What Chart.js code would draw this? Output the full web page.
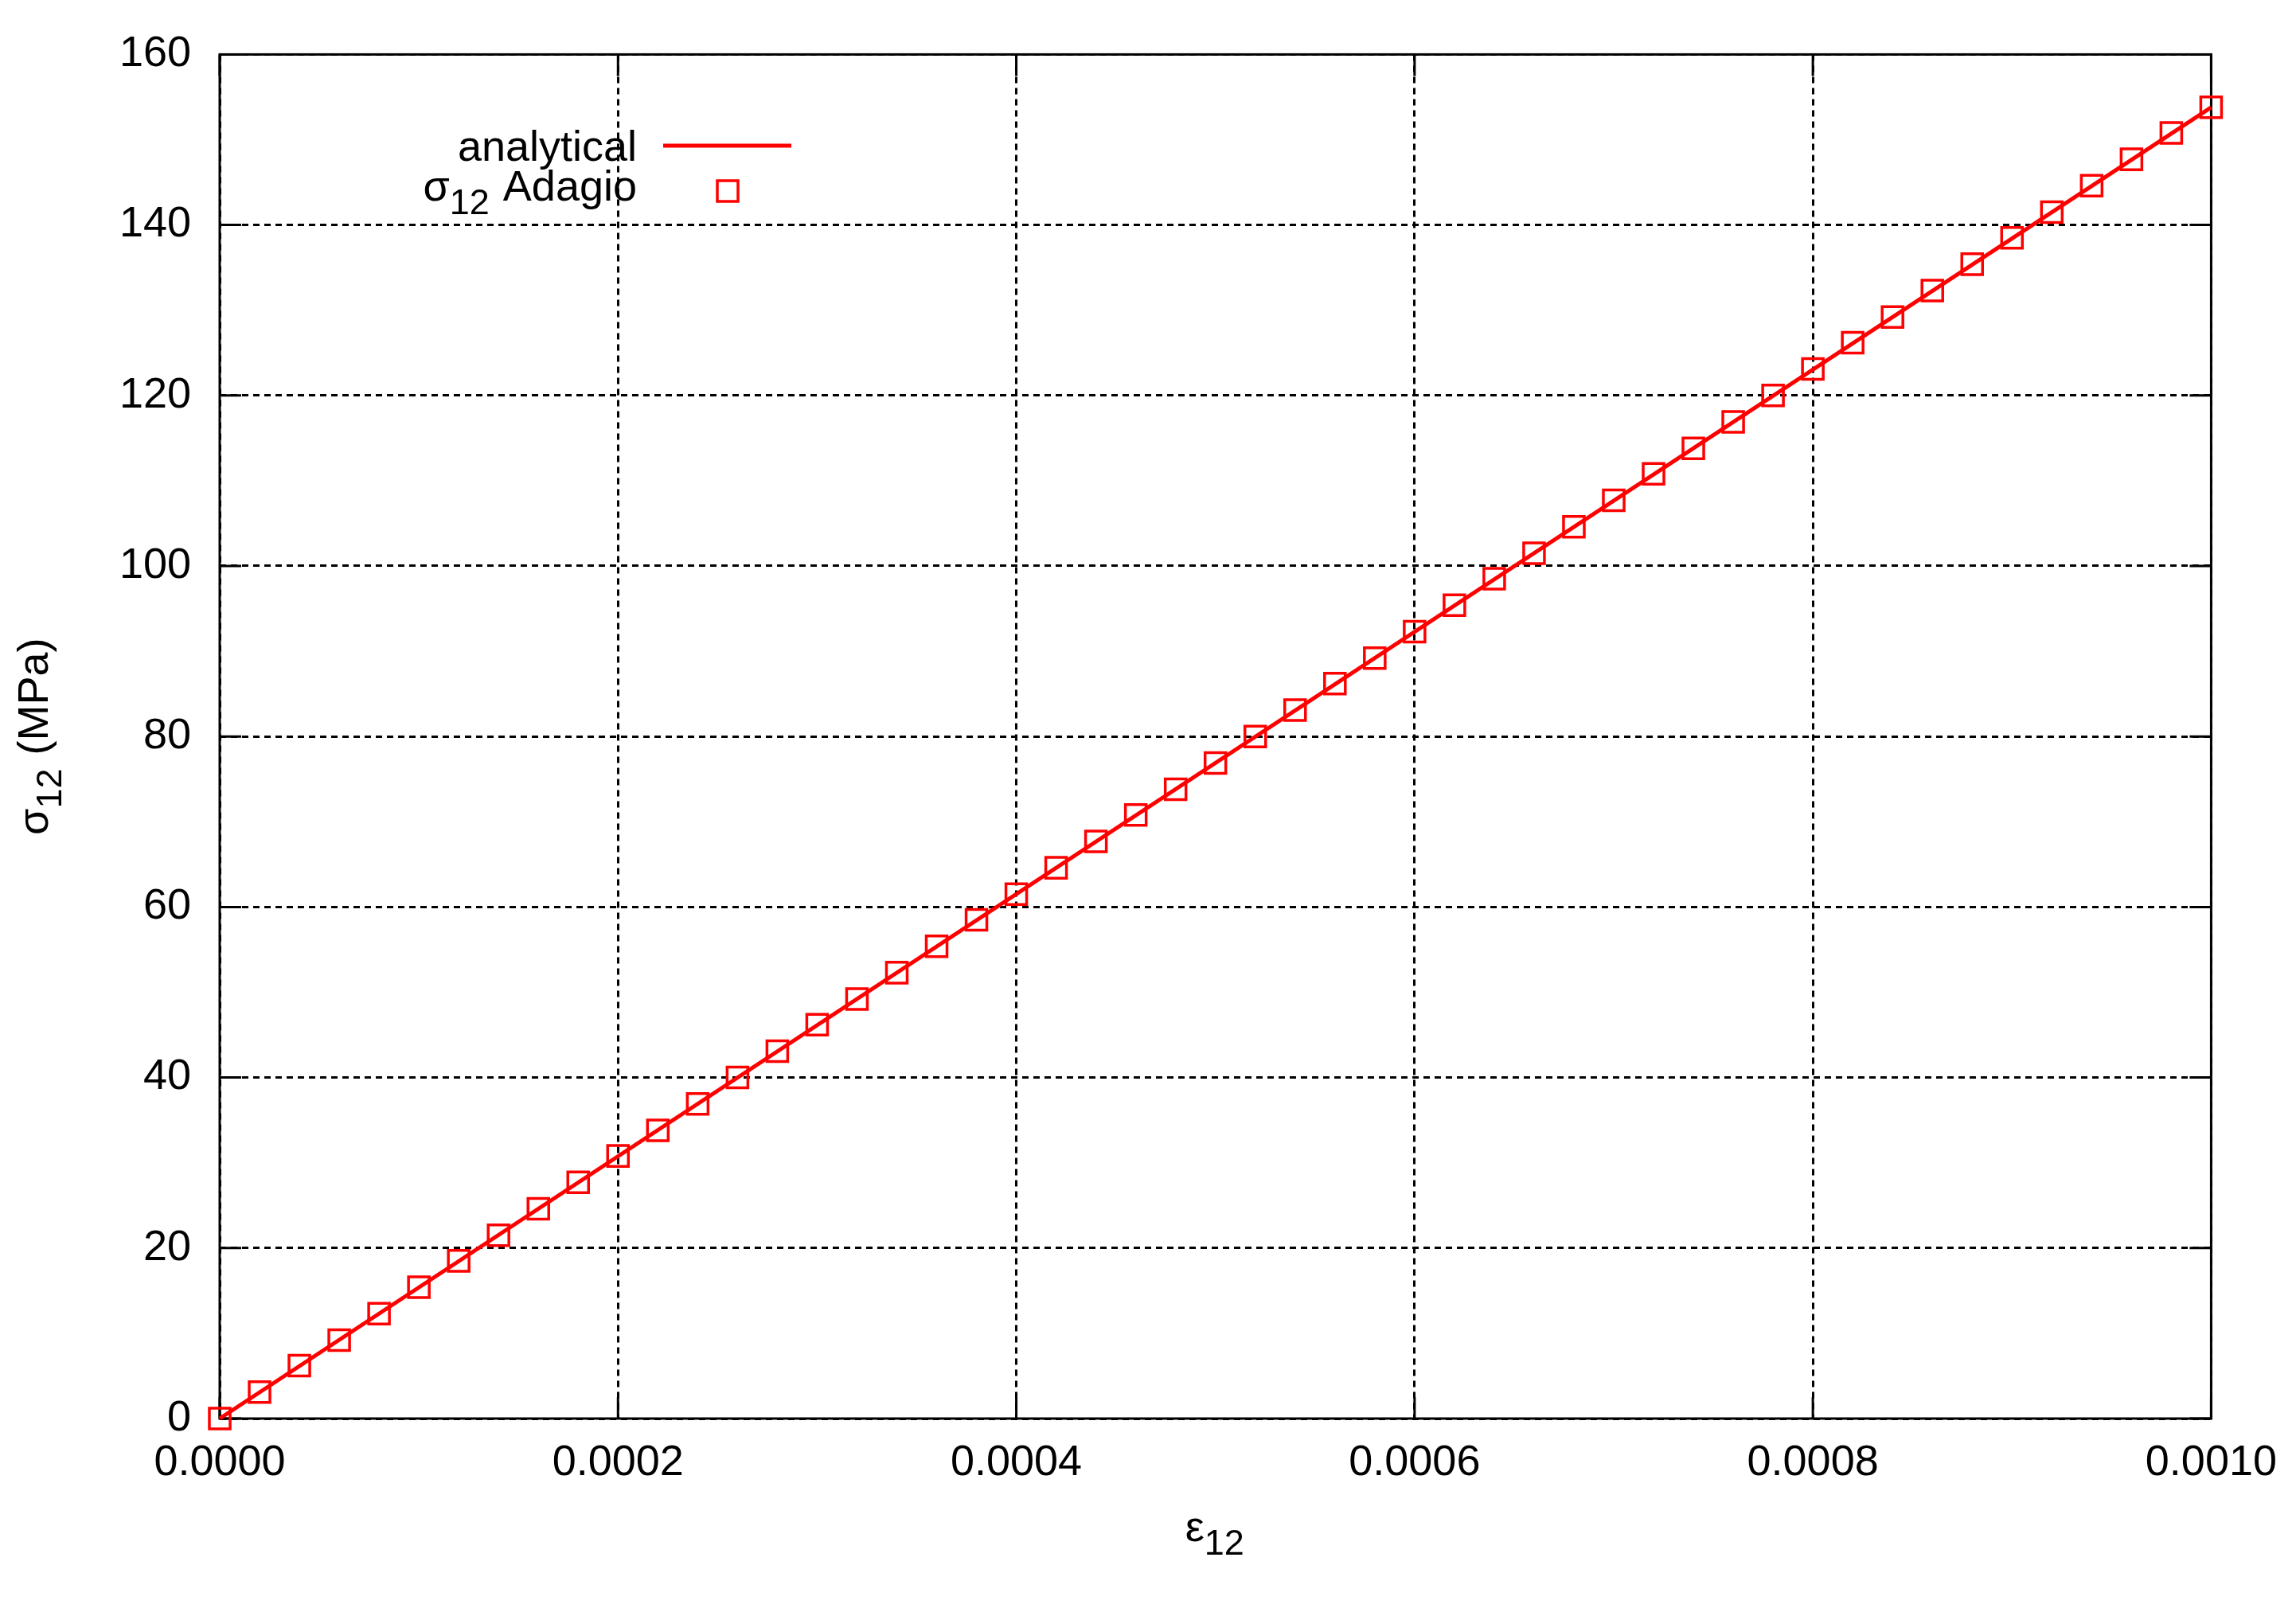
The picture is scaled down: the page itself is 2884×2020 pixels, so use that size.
<!DOCTYPE html>
<html>
<head>
<meta charset="utf-8">
<script src="https://cdn.jsdelivr.net/npm/chart.js@4.4.1/dist/chart.umd.min.js"></script>
<style>
    body { margin: 0; background: #fff; }
    canvas { display: block; }
</style>
</head>
<body>
<canvas id="stressChart" width="2884" height="2020"></canvas>
<script>
const strainPoints = [
    0, 0.00002, 0.00004, 0.00006, 0.00008, 0.0001, 0.00012, 0.00014, 0.00016, 0.00018,
    0.0002, 0.00022, 0.00024, 0.00026, 0.00028, 0.0003, 0.00032, 0.00034, 0.00036, 0.00038,
    0.0004, 0.00042, 0.00044, 0.00046, 0.00048, 0.0005, 0.00052, 0.00054, 0.00056, 0.00058,
    0.0006, 0.00062, 0.00064, 0.00066, 0.00068, 0.0007, 0.00072, 0.00074, 0.00076, 0.00078,
    0.0008, 0.00082, 0.00084, 0.00086, 0.00088, 0.0009, 0.00092, 0.00094, 0.00096, 0.00098,
    0.001
];
const stressPoints = [
    0, 3.1, 6.2, 9.2, 12.3, 15.4, 18.5, 21.5, 24.6, 27.7,
    30.8, 33.8, 36.9, 40.0, 43.1, 46.2, 49.2, 52.3, 55.4, 58.5,
    61.5, 64.6, 67.7, 70.8, 73.8, 76.9, 80.0, 83.1, 86.2, 89.2,
    92.3, 95.4, 98.5, 101.5, 104.6, 107.7, 110.8, 113.8, 116.9, 120.0,
    123.1, 126.2, 129.2, 132.3, 135.4, 138.5, 141.5, 144.6, 147.7, 150.8,
    153.8
];
const analyticStrain = [0, 0.001];
const analyticStress = [0, 153.8];

// text pieces, subscripts marked with sub: true
const legendAnalytical = [{t: 'analytical'}];
const legendAdagio = [{t: 'σ'}, {t: '12', sub: true}, {t: ' Adagio'}];
const xTitle = [{t: 'ε'}, {t: '12', sub: true}];
const yTitle = [{t: 'σ'}, {t: '12', sub: true}, {t: ' (MPa)'}];

const FONT = '"Liberation Sans", Arial, sans-serif';
const SIZE = 54;
const SUB_SIZE = 45;
const RED = '#ff0000';


function pieceFont(p) {
    return (p.sub ? SUB_SIZE : SIZE) + 'px ' + FONT;
}

function textWidth(ctx, pieces) {
    let w = 0;
    pieces.forEach(p => {
        ctx.font = pieceFont(p);
        w += ctx.measureText(p.t).width + (p.sub ? 2 : 0);
    });
    return w;
}

// draws pieces starting at x on baseline y, subscripts lowered
function drawPieces(ctx, pieces, x, y) {
    ctx.textAlign = 'left';
    ctx.textBaseline = 'alphabetic';
    pieces.forEach(p => {
        ctx.font = pieceFont(p);
        ctx.fillText(p.t, x, p.sub ? y + 17 : y);
        x += ctx.measureText(p.t).width + (p.sub ? 2 : 0);
    });
}


// gnuplot style box with inward ticks on all four sides
const framePlugin = {
    id: 'frame',
    beforeDatasetsDraw(chart) {
        const {ctx, chartArea: a, scales} = chart;
        const len = 27;
        ctx.save();
        ctx.strokeStyle = 'black';
        ctx.lineWidth = 3;
        ctx.setLineDash([]);
        ctx.beginPath();
        scales.x.ticks.forEach(t => {
            const px = scales.x.getPixelForValue(t.value);
            ctx.moveTo(px, a.bottom); ctx.lineTo(px, a.bottom - len);
            ctx.moveTo(px, a.top); ctx.lineTo(px, a.top + len);
        });
        scales.y.ticks.forEach(t => {
            const py = scales.y.getPixelForValue(t.value);
            ctx.moveTo(a.left, py); ctx.lineTo(a.left + len, py);
            ctx.moveTo(a.right, py); ctx.lineTo(a.right - len, py);
        });
        ctx.stroke();
        ctx.strokeRect(a.left, a.top, a.right - a.left, a.bottom - a.top);
        ctx.restore();
    }
};

// axis titles and key, drawn by hand for the subscripts
const textPlugin = {
    id: 'texts',
    afterDraw(chart) {
        const {ctx, chartArea: a} = chart;
        ctx.save();
        ctx.fillStyle = 'black';

        const midX = (a.left + a.right) / 2;
        drawPieces(ctx, xTitle, midX - textWidth(ctx, xTitle) / 2, 1936);

        const midY = (a.top + a.bottom) / 2;
        ctx.save();
        ctx.translate(60, midY);
        ctx.rotate(-Math.PI / 2);
        drawPieces(ctx, yTitle, -textWidth(ctx, yTitle) / 2, 0);
        ctx.restore();

        // key: text right aligned at 800, sample to the right
        drawPieces(ctx, legendAnalytical, 800 - textWidth(ctx, legendAnalytical), 202);
        drawPieces(ctx, legendAdagio, 800 - textWidth(ctx, legendAdagio), 252);

        ctx.strokeStyle = RED;
        ctx.lineWidth = 5;
        ctx.beginPath();
        ctx.moveTo(833, 183);
        ctx.lineTo(994, 183);
        ctx.stroke();
        ctx.lineWidth = 3.5;
        ctx.strokeRect(901, 227, 26, 26);
        ctx.restore();
    }
};


new Chart(document.getElementById('stressChart'), {
    type: 'scatter',
    data: {
        datasets: [
            {
                label: 'σ12 Adagio',
                data: strainPoints.map((x, i) => ({x: x, y: stressPoints[i]})),
                pointStyle: 'rect',
                pointRadius: 18.4,
                pointBorderWidth: 3.5,
                borderColor: RED,
                backgroundColor: 'rgba(0,0,0,0)',
                showLine: false,
                clip: false
            },
            {
                label: 'analytical',
                data: analyticStrain.map((x, i) => ({x: x, y: analyticStress[i]})),
                showLine: true,
                borderColor: RED,
                borderWidth: 5,
                pointRadius: 0,
                clip: false
            }
        ]
    },
    options: {
        responsive: false,
        animation: false,
        devicePixelRatio: 1,
        layout: {
            padding: {top: 68, right: 103, bottom: 0, left: 0}
        },
        plugins: {
            legend: {display: false},
            tooltip: {enabled: false}
        },
        scales: {
            x: {
                type: 'linear',
                min: 0,
                max: 0.001,
                afterFit: scale => { scale.height = 238; },
                ticks: {
                    stepSize: 0.0002,
                    autoSkip: false,
                    maxRotation: 0,
                    padding: 24,
                    color: 'black',
                    font: {family: FONT, size: SIZE},
                    callback: v => Number(v).toFixed(4)
                },
                grid: {
                    color: 'black',
                    lineWidth: 3,
                    drawTicks: false
                },
                border: {display: false, dash: [8, 6]}
            },
            y: {
                type: 'linear',
                min: 0,
                max: 160,
                afterFit: scale => { scale.width = 276; },
                ticks: {
                    stepSize: 20,
                    padding: 36,
                    color: 'black',
                    font: {family: FONT, size: SIZE}
                },
                grid: {
                    color: 'black',
                    lineWidth: 3,
                    drawTicks: false
                },
                border: {display: false, dash: [8, 6]}
            }
        }
    },
    plugins: [framePlugin, textPlugin]
});
</script>
</body>
</html>
